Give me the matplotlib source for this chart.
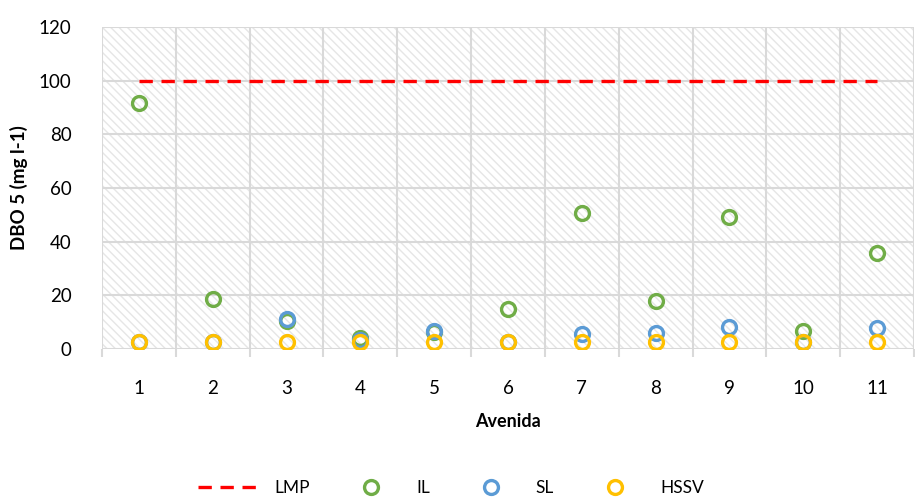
import matplotlib
matplotlib.use("Agg")
import matplotlib.pyplot as plt
from matplotlib.patches import Rectangle
import numpy as np

avenida = [1, 2, 3, 4, 5, 6, 7, 8, 9, 10, 11]
lmp = [100] * 11
il = [91.5, 18.5, 10.5, 4.2, 6.2, 15.0, 50.5, 18.0, 49.3, 6.8, 35.8]
sl = [2.6, 2.6, 11.2, 3.5, 6.6, 2.6, 5.6, 5.8, 8.1, 2.6, 8.0]
hssv = [2.6, 2.6, 2.6, 2.6, 2.6, 2.6, 2.6, 2.6, 2.6, 2.6, 2.6]
y_ticks = [0, 20, 40, 60, 80, 100, 120]

GRID = "#d9d9d9"
plt.rcParams["font.family"] = ["Lato", "DejaVu Sans"]
plt.rcParams["hatch.linewidth"] = 1.0

fig = plt.figure(figsize=(9.15, 4.97), dpi=100)
ax = fig.add_axes([102 / 915, 1 - 349 / 497, 812 / 915, 322 / 497])

# hatched background
ax.add_patch(Rectangle((0, 0), 1, 1, transform=ax.transAxes, facecolor="white",
                       edgecolor="#e6e6e6", hatch="\\\\\\\\", lw=0, zorder=0))

x = np.array(avenida)
ax.plot(x, lmp, color="#ff0000", lw=2.4, ls=(0, (4, 2.6)), zorder=3, label="LMP")
mk = dict(ls="none", marker="o", ms=10, mew=2.4, mfc="none", zorder=4)
ax.plot(x, il, mec="#70ad47", label="IL", **mk)
ax.plot(x, sl, mec="#5b9bd5", label="SL", **mk)
ax.plot(x, hssv, mec="#ffc000", label="HSSV", **mk)

ax.set_xlim(0.5, 11.5)
ax.set_ylim(0, 120)
ax.set_yticks(y_ticks)
ax.set_xticks(x)
ax.set_xticks(np.arange(0.5, 12, 1), minor=True)
for b in np.arange(0.5, 12, 1):
    ax.axvline(b, color=GRID, lw=1.5, zorder=1)
for t in y_ticks:
    ax.axhline(t, color=GRID, lw=1.5, zorder=1)
for s in ax.spines.values():
    s.set_visible(False)
ax.tick_params(axis="y", length=0, pad=22, labelsize=13.5)
ax.tick_params(axis="x", which="major", length=0, pad=22, labelsize=13.5)
ax.tick_params(axis="x", which="minor", length=6, width=1.5, color=GRID)

ax.set_xlabel("Avenida", fontsize=13, fontweight="bold", labelpad=12)
ax.set_ylabel("DBO 5 (mg l-1)", fontsize=13.5, fontweight="bold", labelpad=8)

fig.legend(loc="lower center", bbox_to_anchor=(0.493, -0.03), ncol=4,
           frameon=False, fontsize=12.5, handlelength=3.6, columnspacing=1.7,
           handletextpad=0.8)

fig.savefig("out.png", dpi=100)
